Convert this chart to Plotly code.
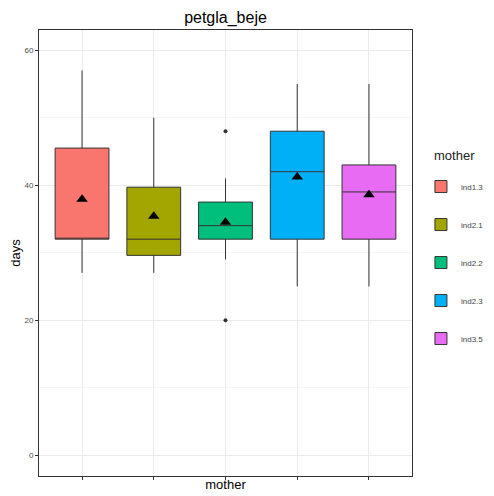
import plotly.graph_objects as go

categories = ["ind1.3", "ind2.1", "ind2.2", "ind2.3", "ind3.5"]
colors = ["#F8766D", "#A3A500", "#00BF7D", "#00B0F6", "#E76BF3"]
lower_whisker = [27, 27, 29, 25, 25]
q1_values = [32, 29.6, 32, 32, 32]
medians = [32, 32, 34, 42, 39]
q3_values = [45.5, 39.7, 37.5, 48, 43]
upper_whisker = [57, 50, 41, 55, 55]
means = [37.9, 35.4, 34.5, 41.2, 38.6]
outlier_cats = ["ind2.2", "ind2.2"]
outlier_values = [48, 20]
y_ticks = [0, 20, 40, 60]

fig = go.Figure()
for i, cat in enumerate(categories):
    fig.add_trace(go.Box(
        x=[cat], q1=[q1_values[i]], median=[medians[i]], q3=[q3_values[i]],
        lowerfence=[lower_whisker[i]], upperfence=[upper_whisker[i]],
        name=cat, legendgroup=cat, fillcolor=colors[i],
        line=dict(color="#333333", width=1), whiskerwidth=0, width=0.75,
        boxpoints=False, hoverinfo="skip",
    ))

fig.add_trace(go.Scatter(
    x=outlier_cats, y=outlier_values, mode="markers",
    marker=dict(color="#333333", size=4), showlegend=False, hoverinfo="skip",
))
fig.add_trace(go.Scatter(
    x=categories, y=means, mode="markers",
    marker=dict(symbol="triangle-up", color="black", size=10), showlegend=False, hoverinfo="skip",
))

# page body has an 8px margin, so the figure is sized/offset to compensate
W, H = 486, 488
L, R, T, B = 31, 82, 22, 20
fig.update_layout(
    width=W, height=H,
    margin=dict(l=L, r=R, t=T, b=B, autoexpand=False),
    paper_bgcolor="white", plot_bgcolor="white",
    boxmode="overlay",
    font=dict(family="Liberation Sans, Arial, sans-serif", color="#222222"),
    title=dict(text="petgla_beje", x=(L + (W - R)) / 2 / W, xanchor="center",
               y=1 - 9.5 / H, yanchor="middle", font=dict(size=16, color="black")),
    legend=dict(
        x=1.024, xanchor="left", y=0.6815, yanchor="top",
        traceorder="grouped", tracegroupgap=19,
        font=dict(size=8, color="#444444"),
        bgcolor="rgba(0,0,0,0)",
    ),
    showlegend=True,
    annotations=[dict(
        text="mother", xref="paper", yref="paper",
        x=(446 - L) / (W - L - R), y=1 - (148 - T) / (H - T - B),
        xanchor="center", yanchor="middle", showarrow=False,
        font=dict(size=13, color="#222222"),
    )],
)
fig.update_xaxes(
    categoryorder="array", categoryarray=categories,
    range=[-0.6, 4.6], showticklabels=False,
    ticks="outside", ticklen=3, tickcolor="#333333",
    showgrid=True, gridcolor="#EBEBEB", gridwidth=1,
    showline=True, linecolor="#333333", linewidth=1, mirror=True,
    title=dict(text="mother", font=dict(size=13, color="black"), standoff=0),
    zeroline=False, automargin=False,
)
fig.update_yaxes(
    range=[-3.1, 63], tickvals=y_ticks,
    ticks="outside", ticklen=3, tickcolor="#333333",
    tickfont=dict(size=8, color="#4D4D4D"),
    showgrid=True, gridcolor="#EBEBEB", gridwidth=1,
    minor=dict(dtick=10, tick0=0, showgrid=True, gridcolor="#F5F5F5", gridwidth=1),
    showline=True, linecolor="#333333", linewidth=1, mirror=True,
    title=dict(text="days", font=dict(size=13, color="black"), standoff=4),
    zeroline=False, automargin=False,
)

fig.write_html("out.html")
